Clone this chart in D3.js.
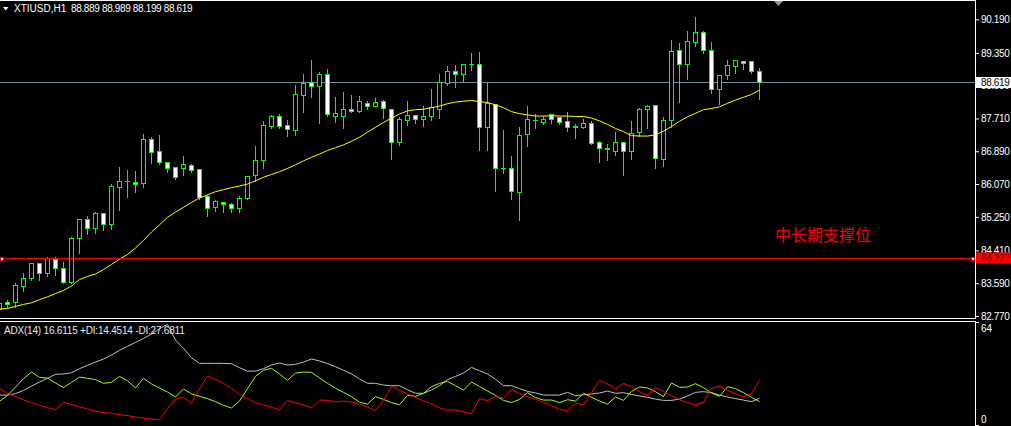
<!DOCTYPE html>
<html><head><meta charset="utf-8">
<script src="https://cdn.jsdelivr.net/npm/d3@7"></script>
<style>html,body{margin:0;padding:0;background:#000;overflow:hidden}svg{display:block}</style>
</head><body><svg id="c" width="1011" height="426"></svg>
<script>
// ---------- data ----------
const symbolName = "XTIUSD,H1";
const lastBarText = "88.889 88.989 88.199 88.619";
const adxLabel = "ADX(14) 16.6115 +DI:14.4514 -DI:27.6811";
const supportText = "中长期支撑位";
const bidPrice = 88.619;
const supportPrice = 84.227;
const priceTicks = [90.19, 89.35, 88.53, 87.71, 86.89, 86.07, 85.25, 84.41, 83.59, 82.77];
const adxTicks = [64, 0];

const opens = [82.95,83.13,83.11,83.53,83.71,84.09,83.84,84.20,83.96,83.61,
84.71,85.19,84.96,85.34,85.07,86.00,86.15,86.13,86.09,87.19,
86.90,86.62,86.49,86.47,86.54,86.44,85.77,85.49,85.61,85.57,
85.47,85.73,86.29,86.66,87.53,87.77,87.54,87.42,88.30,88.61,
88.53,88.82,87.78,87.78,87.94,87.89,88.10,88.03,88.15,87.94,
87.13,87.68,87.80,87.70,87.76,87.95,88.60,88.90,88.83,89.07,
89.07,87.50,88.07,86.48,86.48,85.86,87.32,87.67,87.61,87.81,
87.75,87.65,87.51,87.50,87.59,87.12,86.96,86.90,87.12,86.90,
87.38,87.94,88.05,86.69,87.67,89.42,89.07,89.61,89.87,89.42,
88.44,88.79,89.02,89.14,89.15,88.889];
const highs = [83.12,83.20,83.61,83.87,84.12,84.10,84.27,84.27,84.15,84.77,
85.21,85.30,85.40,85.38,86.09,86.52,86.45,86.42,87.35,87.27,
87.32,86.65,86.51,86.80,86.59,86.45,85.82,85.69,85.63,85.61,
85.79,86.29,87.05,87.67,87.82,87.84,87.70,88.57,88.85,89.20,
88.90,88.97,88.27,88.40,88.32,88.30,88.17,88.25,88.19,87.95,
87.76,88.17,87.82,88.05,88.48,88.85,89.05,89.07,89.10,89.37,
89.40,88.61,88.08,87.45,86.80,87.52,88.05,87.85,87.80,87.84,
87.76,87.90,87.60,87.73,87.66,87.17,87.10,87.40,87.13,87.67,
87.99,88.07,88.07,87.77,89.70,89.61,89.92,90.28,89.92,89.65,
88.82,89.20,89.19,89.17,89.17,88.989];
const lows = [82.92,82.99,82.99,83.40,83.67,83.67,83.77,83.79,83.60,83.60,
84.35,84.83,84.85,84.91,84.94,85.42,85.75,85.86,86.00,86.59,
86.57,86.36,86.20,86.30,86.38,85.69,85.26,85.40,85.38,85.36,
85.36,85.70,86.15,86.48,87.48,87.46,87.28,87.30,87.88,88.24,
87.59,87.76,87.61,87.48,87.88,87.88,87.95,88.02,87.73,86.70,
87.05,87.55,87.59,87.52,87.67,87.73,88.55,88.50,88.61,88.92,
86.92,86.92,85.90,86.35,85.70,85.16,87.03,87.46,87.57,87.59,
87.57,87.40,87.23,87.48,87.08,86.62,86.67,86.80,86.29,86.70,
87.27,87.48,86.48,86.52,87.49,88.13,88.70,89.53,89.35,88.34,
88.07,88.69,88.85,88.95,88.84,88.199];
const closes = [83.10,83.06,83.55,83.72,84.09,83.84,84.21,83.96,83.61,84.71,
85.19,84.96,85.34,85.07,86.02,86.15,86.14,86.08,87.19,86.88,
86.61,86.47,86.24,86.58,86.41,85.75,85.48,85.65,85.56,85.47,
85.71,86.26,86.68,87.54,87.77,87.53,87.45,88.32,88.60,88.52,
88.82,87.83,87.85,87.94,87.90,88.14,88.03,88.12,87.96,87.13,
87.70,87.79,87.70,87.77,87.99,88.61,88.90,88.83,89.07,89.06,
87.50,88.10,86.48,86.47,85.89,87.30,87.70,87.66,87.70,87.70,
87.63,87.49,87.50,87.60,87.10,86.96,86.95,87.12,86.90,87.34,
87.95,88.02,86.71,87.67,89.40,89.07,89.65,89.87,89.41,88.44,
88.79,89.04,89.17,89.09,88.89,88.619];
const maValues = [82.94,82.96,83.01,83.06,83.10,83.18,83.25,83.33,83.41,83.52,
83.68,83.76,83.82,83.93,84.06,84.19,84.31,84.47,84.66,84.87,
85.05,85.24,85.37,85.49,85.61,85.72,85.80,85.88,85.93,85.98,
86.02,86.07,86.15,86.24,86.31,86.38,86.46,86.55,86.65,86.74,
86.82,86.91,86.98,87.05,87.14,87.24,87.37,87.49,87.61,87.72,
87.82,87.90,87.93,87.94,87.98,88.02,88.08,88.12,88.14,88.16,
88.13,88.11,88.05,87.98,87.88,87.83,87.80,87.77,87.77,87.78,
87.77,87.77,87.76,87.76,87.72,87.65,87.56,87.46,87.38,87.28,
87.27,87.27,87.30,87.39,87.51,87.64,87.75,87.84,87.93,87.96,
88.00,88.09,88.17,88.24,88.31,88.42];
const adxValues = [18.6,18.6,19.5,21.5,24.2,26.7,29.0,31.5,31.7,32.5,
35.0,37.1,39.1,41.0,43.5,46.4,48.9,51.3,53.8,56.5,
59.8,62.5,52.8,47.6,41.8,38.3,38.3,38.3,38.3,38.1,
35.6,33.5,33.5,35.0,37.3,38.5,37.3,37.7,39.1,41.0,
39.8,38.1,36.2,34.0,31.7,28.6,25.9,25.9,24.8,24.4,
24.4,21.9,19.7,19.7,21.7,24.4,28.2,30.2,32.3,35.8,
33.7,31.7,28.4,24.4,24.4,22.6,20.9,19.9,18.6,18.6,
18.6,20.3,18.2,18.8,19.3,19.9,21.1,19.7,20.1,19.0,
18.0,17.2,16.1,15.3,15.3,16.1,18.0,20.3,20.7,20.1,
18.6,17.4,16.4,15.5,14.5,16.61];
const plusDI = [14.7,18.4,23.6,28.8,32.9,29.6,29.2,26.1,23.2,26.5,
29.8,29.0,28.2,25.9,26.5,30.2,27.5,23.0,29.0,25.5,
23.0,20.5,17.4,22.4,19.3,17.8,16.4,14.5,12.2,10.6,
14.9,22.6,30.2,34.0,35.2,31.7,27.7,32.3,32.9,32.7,
29.2,25.9,22.8,20.3,17.6,14.1,13.0,17.6,15.9,13.9,
12.6,18.4,17.8,19.7,23.8,25.9,27.1,24.4,21.7,26.7,
24.0,21.1,18.4,15.3,13.9,15.9,20.1,17.0,15.5,15.5,
13.9,15.7,14.9,19.7,17.2,14.9,13.0,17.4,15.3,20.9,
23.6,23.0,20.7,17.6,26.1,23.4,23.6,25.7,23.2,19.9,
17.8,23.8,22.6,20.1,17.2,14.45];
const minusDI = [22.6,19.7,17.6,15.7,13.9,12.2,10.8,9.5,14.1,12.8,
11.4,9.9,8.7,7.7,7.2,6.4,5.8,5.0,4.3,3.7,
3.3,10.1,16.1,17.2,13.7,22.4,30.4,28.6,25.9,22.8,
19.0,16.4,13.9,12.6,11.0,9.5,15.3,13.7,12.4,10.6,
15.5,15.3,14.3,14.9,14.3,12.8,11.2,8.9,15.5,24.0,
21.5,19.5,17.0,15.1,13.0,10.6,9.3,9.3,8.1,7.0,
16.4,15.1,17.6,16.8,22.2,19.5,17.6,15.9,14.1,12.0,
9.7,8.7,13.5,12.4,19.9,27.7,25.5,22.4,25.9,23.8,
20.7,18.4,23.2,20.9,18.2,15.7,13.9,12.6,14.1,22.8,
24.2,21.5,19.5,17.4,19.5,27.68];

// ---------- layout ----------
const W = 1011, H = 426, plotR = 975;
const svg = d3.select("#c");
svg.append("rect").attr("width", W).attr("height", H).attr("fill", "#000");
const font = "'Liberation Sans', Arial, sans-serif";

const n = opens.length;
const x = d3.scaleLinear().domain([0, n - 1]).range([-0.5, 759.5]);
const y = d3.scaleLinear().domain([82.77, 90.19]).range([316, 19.3]);
const yA = d3.scaleLinear().domain([0, 64]).range([425, 322]);
const py = v => Math.round(y(v)) + 0.5;

const defs = svg.append("defs");
defs.append("clipPath").attr("id", "mainClip").append("rect").attr("x", 0).attr("y", 1).attr("width", plotR).attr("height", 317);
defs.append("clipPath").attr("id", "subClip").append("rect").attr("x", 0).attr("y", 322).attr("width", plotR).attr("height", 104);

// frame
const frame = svg.append("g").attr("stroke", "#fff").attr("stroke-width", 1).attr("shape-rendering", "crispEdges");
frame.append("line").attr("x1", 0).attr("x2", plotR + 0.5).attr("y1", 0.5).attr("y2", 0.5);
frame.append("line").attr("x1", plotR + 0.5).attr("x2", plotR + 0.5).attr("y1", 0).attr("y2", 319);
frame.append("line").attr("x1", 0).attr("x2", plotR + 0.5).attr("y1", 318.5).attr("y2", 318.5);
frame.append("line").attr("x1", 0).attr("x2", plotR + 0.5).attr("y1", 321.5).attr("y2", 321.5);
frame.append("line").attr("x1", plotR + 0.5).attr("x2", plotR + 0.5).attr("y1", 321).attr("y2", H);

// shift marker
svg.append("path").attr("d", "M774,1L783,1L778.5,6Z").attr("fill", "#8a9aab");

const main = svg.append("g").attr("clip-path", "url(#mainClip)");

// bid line (behind candles)
main.append("line").attr("x1", 0).attr("x2", plotR).attr("y1", py(bidPrice)).attr("y2", py(bidPrice))
  .attr("stroke", "#778899").attr("shape-rendering", "crispEdges");

// candles
const idx = d3.range(n);
const cg = main.append("g").attr("shape-rendering", "crispEdges");
const bars = cg.selectAll("g.bar").data(idx).join("g").attr("class", "bar");
bars.append("line")
  .attr("x1", i => x(i)).attr("x2", i => x(i))
  .attr("y1", i => py(highs[i])).attr("y2", i => py(lows[i]) + 0.5)
  .attr("stroke", "#00ff00");
bars.each(function (i) {
  const g = d3.select(this);
  const t = Math.min(py(opens[i]), py(closes[i]));
  const b = Math.max(py(opens[i]), py(closes[i]));
  if (b - t < 1) {
    g.append("line").attr("x1", x(i) - 2.5).attr("x2", x(i) + 2.5).attr("y1", t).attr("y2", t).attr("stroke", "#00ff00");
  } else {
    g.append("rect").attr("x", x(i) - 2).attr("y", t).attr("width", 4).attr("height", b - t)
      .attr("fill", closes[i] > opens[i] ? "#000" : "#fff").attr("stroke", "#00ff00");
  }
});

// moving average
main.append("path").datum(maValues)
  .attr("d", d3.line().x((d, i) => x(i)).y(d => y(d)))
  .attr("fill", "none").attr("stroke", "#ffff00").attr("stroke-width", 1);

// support line
const sy = py(supportPrice);
main.append("line").attr("x1", 0).attr("x2", 973).attr("y1", sy).attr("y2", sy)
  .attr("stroke", "#ff0000").attr("shape-rendering", "crispEdges");
[0.5, 971.5].forEach(px => main.append("rect").attr("x", px).attr("y", sy - 1.5).attr("width", 3).attr("height", 3)
  .attr("fill", "#fff").attr("stroke", "#ff0000").attr("shape-rendering", "crispEdges"));

svg.append("text").attr("x", 775).attr("y", 241).text(supportText)
  .attr("fill", "#ff0000").attr("font-family", "'Noto Sans CJK SC', sans-serif").attr("font-size", 16);

// header
svg.append("path").attr("d", "M3,7L8.5,7L5.75,10.5Z").attr("fill", "#fff");
svg.append("text").attr("x", 14).attr("y", 12).text(symbolName)
  .attr("fill", "#fff").attr("font-family", font).attr("font-size", 10);
svg.append("text").attr("x", 71).attr("y", 12).text(lastBarText)
  .attr("fill", "#fff").attr("font-family", font).attr("font-size", 10).attr("letter-spacing", -0.35);

// price axis
const ax = svg.append("g").attr("transform", `translate(${plotR},0)`)
  .call(d3.axisRight(y).tickValues(priceTicks).tickFormat(d3.format(".3f")).tickSize(4).tickPadding(2).tickSizeOuter(0));
ax.select(".domain").remove();
ax.selectAll("line").attr("stroke", "#fff");
ax.selectAll("text").attr("fill", "#fff").attr("font-family", font).attr("font-size", 10).attr("letter-spacing", -0.35);

// bid label
svg.append("rect").attr("x", 976).attr("y", 77).attr("width", 35).attr("height", 11).attr("fill", "#fff");
svg.append("text").attr("x", 981).attr("y", py(bidPrice)).attr("dy", "0.35em").text(d3.format(".3f")(bidPrice))
  .attr("fill", "#000").attr("font-family", font).attr("font-size", 10).attr("letter-spacing", -0.35);
// support label
svg.append("rect").attr("x", 976).attr("y", 252.5).attr("width", 35).attr("height", 11).attr("fill", "#ff0000");
svg.append("text").attr("x", 981).attr("y", sy).attr("dy", "0.35em").text(d3.format(".3f")(supportPrice))
  .attr("fill", "#6a0000").attr("font-family", font).attr("font-size", 10).attr("letter-spacing", -0.35);

// ADX sub window
const sub = svg.append("g").attr("clip-path", "url(#subClip)");
const lineA = d3.line().x((d, i) => x(i)).y(d => yA(d));
[[adxValues, "#c0c0c0"], [plusDI, "#9aff1a"], [minusDI, "#ff0000"]].forEach(([arr, col]) => {
  sub.append("path").datum(arr).attr("d", lineA).attr("fill", "none").attr("stroke", col).attr("stroke-width", 1);
});
svg.append("text").attr("x", 4).attr("y", 334).text(adxLabel)
  .attr("fill", "#e8e8e8").attr("font-family", font).attr("font-size", 10).attr("letter-spacing", -0.2);

const ax2 = svg.append("g").attr("transform", `translate(${plotR},0)`)
  .call(d3.axisRight(yA).tickValues(adxTicks).tickFormat(d3.format("d")).tickSize(4).tickPadding(2).tickSizeOuter(0));
ax2.select(".domain").remove();
ax2.selectAll("line").attr("stroke", "#fff");
ax2.selectAll("text").attr("fill", "#fff").attr("font-family", font).attr("font-size", 10)
  .attr("dy", d => d === 64 ? "0.95em" : "-0.3em");
</script></body></html>
